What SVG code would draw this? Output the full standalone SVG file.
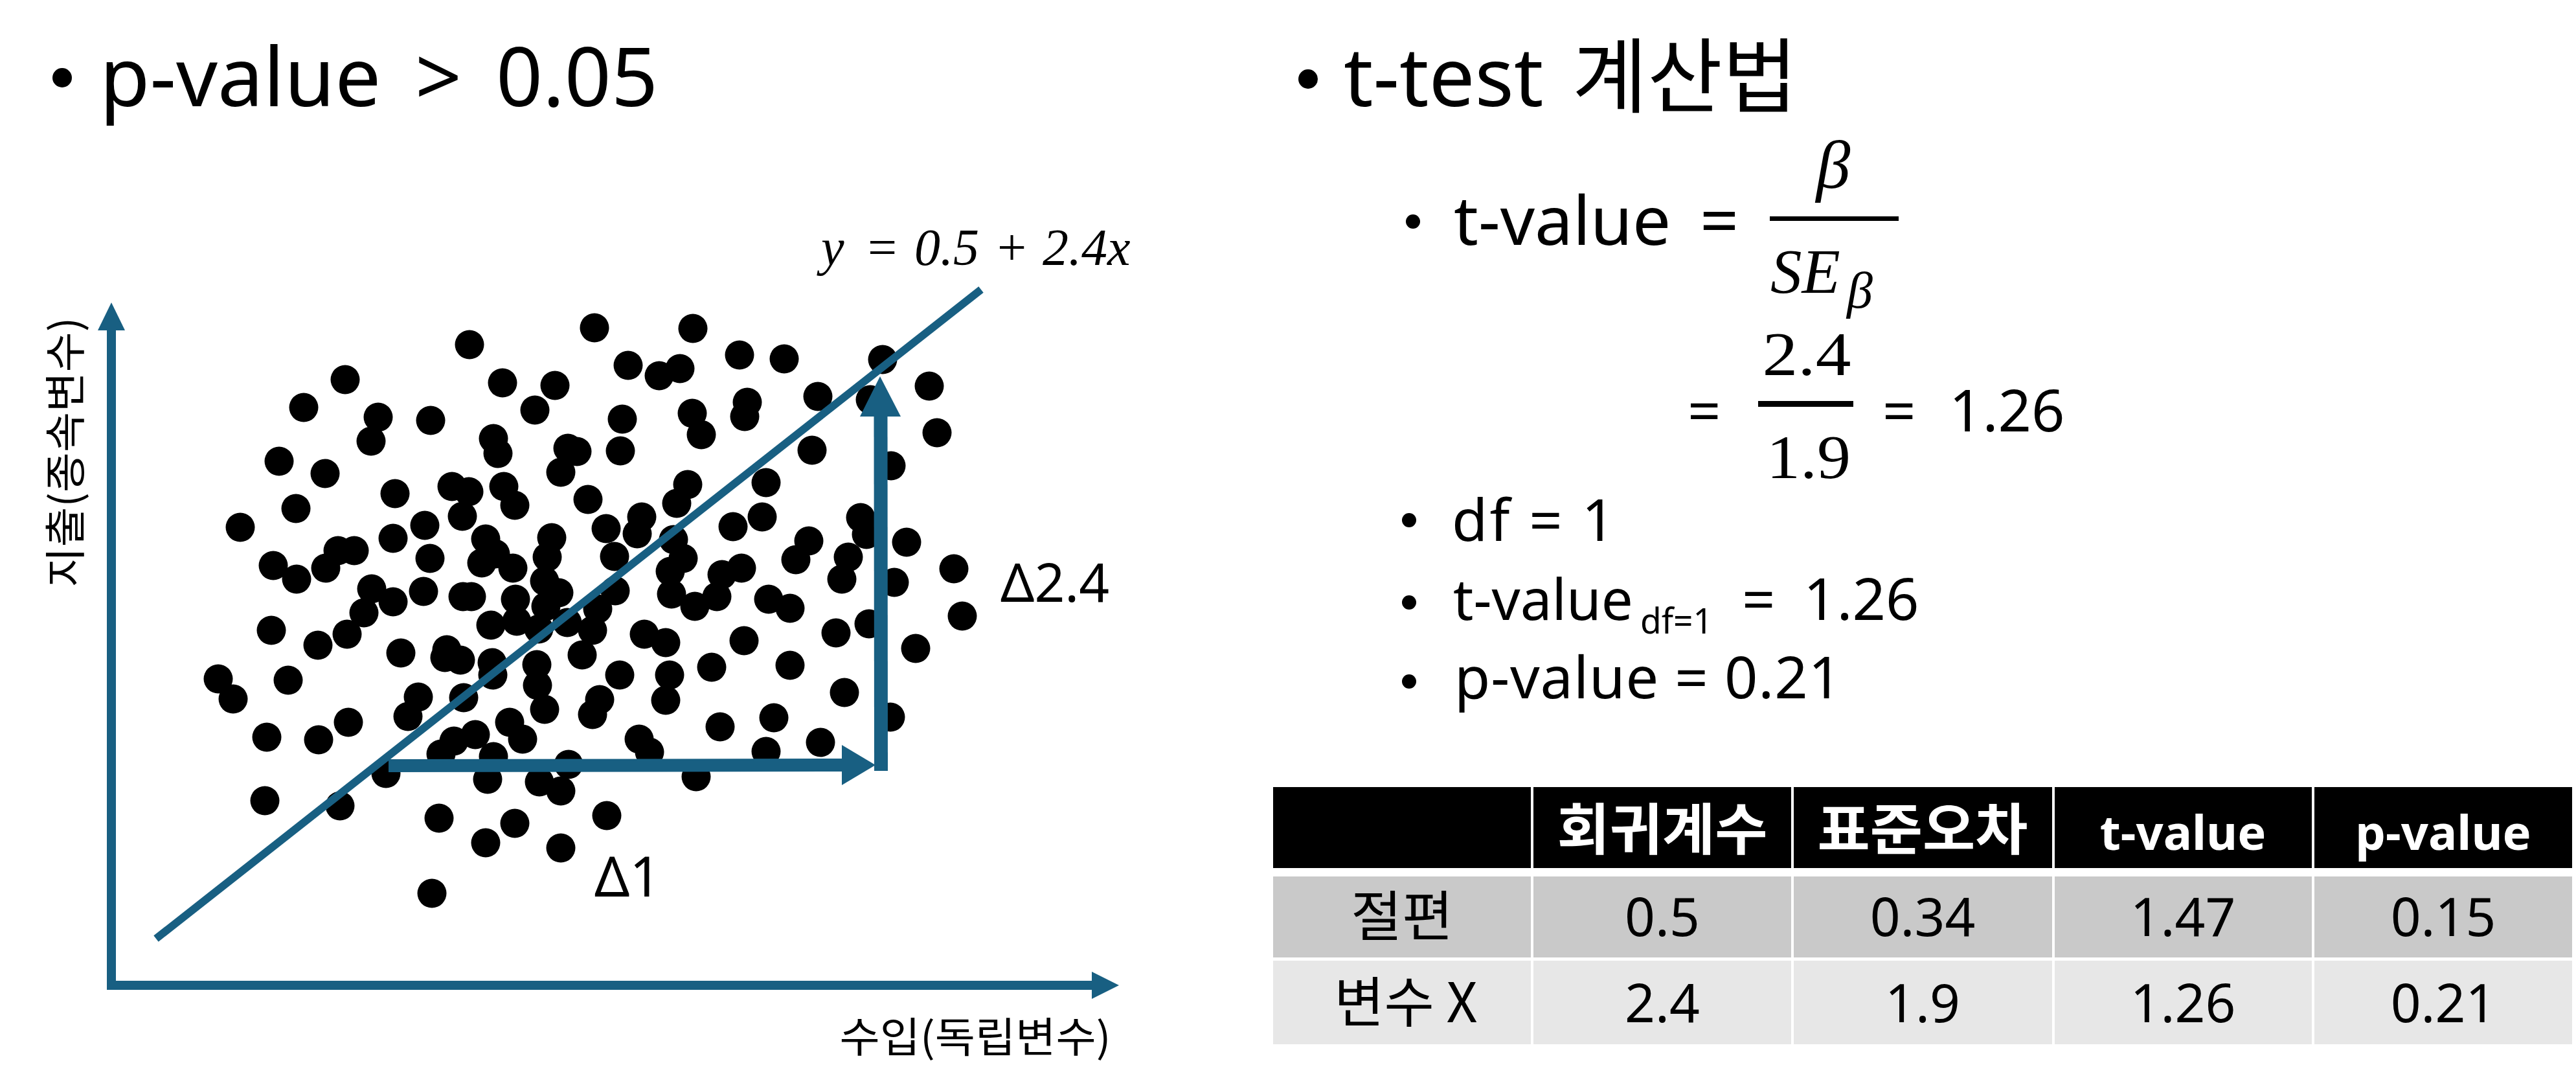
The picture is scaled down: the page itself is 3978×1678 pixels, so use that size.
<svg xmlns="http://www.w3.org/2000/svg" width="3978" height="1678" viewBox="0 0 3978 1678">
<style>
.sans{font-family:"Noto Sans","Noto Sans CJK KR",sans-serif;fill:#000}
.kr{font-family:"Noto Sans CJK KR","Noto Sans",sans-serif;fill:#000}
.math{font-family:"Liberation Serif","DejaVu Serif",serif;fill:#000}
.it{font-style:italic}
.blue{fill:#185F82}
.bline{stroke:#185F82;fill:none;stroke-linecap:butt}
.dots circle{fill:#000}
.hdr{fill:#000}
.r1{fill:#C9C9C9}
.r2{fill:#E7E7E7}
.ht{fill:#fff;font-weight:bold;text-anchor:middle}
.ct{text-anchor:middle}
</style>
<rect width="3978" height="1678" fill="#fff"/>

<g id="title-left">
<circle cx="96" cy="120" r="15"/>
<text class="sans" font-size="126" y="164"><tspan x="154">p-value</tspan><tspan x="641">&gt;</tspan><tspan x="766">0.05</tspan></text>
</g>

<g id="scatter" class="dots">
<circle cx="725" cy="532" r="22.5"/><circle cx="533" cy="586" r="22.5"/><circle cx="776" cy="591" r="22.5"/><circle cx="857" cy="595" r="22.5"/>
<circle cx="469" cy="629" r="22.5"/><circle cx="584" cy="644" r="22.5"/><circle cx="665" cy="649" r="22.5"/><circle cx="826" cy="633" r="22.5"/>
<circle cx="573" cy="681" r="22.5"/><circle cx="762" cy="677" r="22.5"/><circle cx="769" cy="700" r="22.5"/><circle cx="877" cy="692" r="22.5"/>
<circle cx="891" cy="697" r="22.5"/><circle cx="431" cy="712" r="22.5"/><circle cx="502" cy="731" r="22.5"/><circle cx="866" cy="729" r="22.5"/>
<circle cx="698" cy="751" r="22.5"/><circle cx="724" cy="759" r="22.5"/><circle cx="778" cy="751" r="22.5"/><circle cx="795" cy="780" r="22.5"/>
<circle cx="610" cy="762" r="22.5"/><circle cx="457" cy="785" r="22.5"/><circle cx="714" cy="797" r="22.5"/><circle cx="908" cy="771" r="22.5"/>
<circle cx="371" cy="814" r="22.5"/><circle cx="656" cy="811" r="22.5"/><circle cx="607" cy="831" r="22.5"/><circle cx="750" cy="832" r="22.5"/>
<circle cx="852" cy="830" r="22.5"/><circle cx="765" cy="855" r="22.5"/><circle cx="845" cy="860" r="22.5"/><circle cx="522" cy="850" r="22.5"/>
<circle cx="547" cy="850" r="22.5"/><circle cx="422" cy="873" r="22.5"/><circle cx="458" cy="894" r="22.5"/><circle cx="503" cy="877" r="22.5"/>
<circle cx="664" cy="862" r="22.5"/><circle cx="744" cy="869" r="22.5"/><circle cx="792" cy="877" r="22.5"/><circle cx="841" cy="897" r="22.5"/>
<circle cx="863" cy="915" r="22.5"/><circle cx="574" cy="909" r="22.5"/><circle cx="607" cy="929" r="22.5"/><circle cx="654" cy="913" r="22.5"/>
<circle cx="715" cy="921" r="22.5"/><circle cx="728" cy="921" r="22.5"/><circle cx="796" cy="925" r="22.5"/><circle cx="843" cy="936" r="22.5"/>
<circle cx="562" cy="946" r="22.5"/><circle cx="758" cy="965" r="22.5"/><circle cx="798" cy="959" r="22.5"/><circle cx="832" cy="971" r="22.5"/>
<circle cx="876" cy="961" r="22.5"/><circle cx="419" cy="973" r="22.5"/><circle cx="491" cy="996" r="22.5"/><circle cx="536" cy="979" r="22.5"/>
<circle cx="619" cy="1008" r="22.5"/><circle cx="690" cy="1003" r="22.5"/><circle cx="687" cy="1015" r="22.5"/><circle cx="711" cy="1019" r="22.5"/>
<circle cx="760" cy="1023" r="22.5"/><circle cx="761" cy="1042" r="22.5"/><circle cx="829" cy="1026" r="22.5"/><circle cx="830" cy="1058" r="22.5"/>
<circle cx="899" cy="1011" r="22.5"/><circle cx="337" cy="1048" r="22.5"/><circle cx="445" cy="1050" r="22.5"/>
<circle cx="841" cy="1095" r="22.5"/><circle cx="360" cy="1079" r="22.5"/><circle cx="646" cy="1076" r="22.5"/><circle cx="630" cy="1106" r="22.5"/>
<circle cx="716" cy="1077" r="22.5"/><circle cx="412" cy="1138" r="22.5"/><circle cx="492" cy="1142" r="22.5"/><circle cx="538" cy="1115" r="22.5"/>
<circle cx="787" cy="1115" r="22.5"/><circle cx="807" cy="1141" r="22.5"/><circle cx="701" cy="1144" r="22.5"/><circle cx="734" cy="1134" r="22.5"/>
<circle cx="681" cy="1164" r="22.5"/><circle cx="762" cy="1168" r="22.5"/><circle cx="878" cy="1180" r="22.5"/><circle cx="596" cy="1194" r="22.5"/>
<circle cx="753" cy="1203" r="22.5"/><circle cx="833" cy="1207" r="22.5"/><circle cx="866" cy="1221" r="22.5"/><circle cx="409" cy="1236" r="22.5"/>
<circle cx="525" cy="1244" r="22.5"/><circle cx="678" cy="1263" r="22.5"/><circle cx="795" cy="1271" r="22.5"/><circle cx="750" cy="1301" r="22.5"/>
<circle cx="866" cy="1309" r="22.5"/><circle cx="667" cy="1379" r="22.5"/>
<circle cx="918" cy="506" r="22.5"/><circle cx="1070" cy="507" r="22.5"/><circle cx="970" cy="564" r="22.5"/><circle cx="1018" cy="580" r="22.5"/>
<circle cx="1050" cy="569" r="22.5"/><circle cx="1142" cy="548" r="22.5"/><circle cx="1211" cy="554" r="22.5"/><circle cx="1363" cy="555" r="22.5"/>
<circle cx="1435" cy="596" r="22.5"/><circle cx="1263" cy="612" r="22.5"/><circle cx="1344" cy="617" r="22.5"/><circle cx="1154" cy="621" r="22.5"/>
<circle cx="1150" cy="643" r="22.5"/><circle cx="1069" cy="638" r="22.5"/><circle cx="1083" cy="671" r="22.5"/><circle cx="961" cy="647" r="22.5"/>
<circle cx="958" cy="696" r="22.5"/><circle cx="1447" cy="668" r="22.5"/><circle cx="1254" cy="695" r="22.5"/><circle cx="1376" cy="719" r="22.5"/>
<circle cx="1183" cy="745" r="22.5"/><circle cx="1062" cy="748" r="22.5"/><circle cx="1045" cy="777" r="22.5"/><circle cx="991" cy="798" r="22.5"/>
<circle cx="936" cy="816" r="22.5"/><circle cx="984" cy="824" r="22.5"/><circle cx="949" cy="859" r="22.5"/><circle cx="1177" cy="798" r="22.5"/>
<circle cx="1132" cy="813" r="22.5"/><circle cx="1329" cy="799" r="22.5"/><circle cx="1338" cy="825" r="22.5"/><circle cx="1400" cy="837" r="22.5"/>
<circle cx="1249" cy="835" r="22.5"/><circle cx="1229" cy="864" r="22.5"/><circle cx="1310" cy="860" r="22.5"/><circle cx="1300" cy="894" r="22.5"/>
<circle cx="1473" cy="878" r="22.5"/><circle cx="1381" cy="899" r="22.5"/><circle cx="1486" cy="951" r="22.5"/><circle cx="1040" cy="833" r="22.5"/>
<circle cx="1055" cy="862" r="22.5"/><circle cx="1035" cy="882" r="22.5"/><circle cx="1037" cy="917" r="22.5"/><circle cx="1073" cy="936" r="22.5"/>
<circle cx="1107" cy="921" r="22.5"/><circle cx="1115" cy="887" r="22.5"/><circle cx="1145" cy="877" r="22.5"/><circle cx="1187" cy="925" r="22.5"/>
<circle cx="1220" cy="939" r="22.5"/><circle cx="950" cy="912" r="22.5"/><circle cx="923" cy="940" r="22.5"/><circle cx="915" cy="973" r="22.5"/>
<circle cx="995" cy="979" r="22.5"/><circle cx="1028" cy="992" r="22.5"/><circle cx="1149" cy="989" r="22.5"/><circle cx="1291" cy="977" r="22.5"/>
<circle cx="1342" cy="963" r="22.5"/><circle cx="1414" cy="1001" r="22.5"/><circle cx="957" cy="1042" r="22.5"/><circle cx="1034" cy="1042" r="22.5"/>
<circle cx="1099" cy="1030" r="22.5"/><circle cx="1220" cy="1027" r="22.5"/>
<circle cx="926" cy="1080" r="22.5"/><circle cx="915" cy="1103" r="22.5"/><circle cx="1028" cy="1081" r="22.5"/><circle cx="1304" cy="1069" r="22.5"/>
<circle cx="1375" cy="1107" r="22.5"/><circle cx="1195" cy="1108" r="22.5"/><circle cx="1112" cy="1122" r="22.5"/><circle cx="987" cy="1141" r="22.5"/>
<circle cx="1003" cy="1161" r="22.5"/><circle cx="1183" cy="1160" r="22.5"/><circle cx="1267" cy="1146" r="22.5"/><circle cx="1075" cy="1199" r="22.5"/>
<circle cx="937" cy="1259" r="22.5"/>
</g>

<g id="connectors">
<line class="bline" x1="241" y1="1449" x2="1515" y2="447" stroke-width="12"/>
<line class="bline" x1="172" y1="1528" x2="172" y2="505" stroke-width="14"/>
<polygon class="blue" points="172,467 151,510 193,510"/>
<line class="bline" x1="165" y1="1521" x2="1690" y2="1521" stroke-width="14"/>
<polygon class="blue" points="1728,1521 1686,1500 1686,1542"/>
<line class="bline" x1="600" y1="1182" x2="1304" y2="1181" stroke-width="20"/>
<polygon class="blue" points="1352,1181 1300,1150 1300,1212"/>
<line class="bline" x1="1360.5" y1="1190" x2="1360" y2="638" stroke-width="21"/>
<polygon class="blue" points="1359,581 1328,643 1391,643"/>
</g>

<g id="chart-labels">
<text class="math it" font-size="80" y="409"><tspan x="1268">y</tspan><tspan x="1340" font-style="normal">=</tspan><tspan x="1412">0.5</tspan><tspan x="1540" font-style="normal">+</tspan><tspan x="1610">2.4x</tspan></text>
<text class="sans" font-size="82" x="1545" y="929">Δ2.4</text>
<text class="sans" font-size="85" x="918" y="1384">Δ1</text>
<text class="kr" font-size="64" text-anchor="middle" textLength="417" lengthAdjust="spacingAndGlyphs" transform="translate(124,698) rotate(-90)" x="0" y="0">지출(종속변수)</text>
<text class="kr" font-size="64" text-anchor="middle" textLength="419" lengthAdjust="spacingAndGlyphs" x="1506" y="1624">수입(독립변수)</text>
</g>

<g id="title-right">
<circle cx="2020" cy="122" r="15"/>
<text class="sans" font-size="126" y="164"><tspan x="2075">t-test</tspan><tspan x="2428">계산법</tspan></text>
</g>

<g id="formula">
<circle cx="2182" cy="342" r="11"/>
<text class="sans" font-size="105" x="2245" y="378">t-value</text>
<text class="sans" font-size="105" x="2625" y="378">=</text>
<text class="math it" font-size="106" x="2831" y="290" text-anchor="middle">β</text>
<rect x="2733" y="334" width="199" height="7" fill="#000"/>
<text class="math it" font-size="97" x="2734" y="452">SE</text>
<text class="math it" font-size="80" x="2852" y="475">β</text>

<text class="sans" font-size="90" x="2606" y="666">=</text>
<text class="math" font-size="95" x="2790" y="579" text-anchor="middle" textLength="137" lengthAdjust="spacingAndGlyphs">2.4</text>
<rect x="2715" y="619" width="147" height="9" fill="#000"/>
<text class="math" font-size="95" x="2793" y="738" text-anchor="middle" textLength="130" lengthAdjust="spacingAndGlyphs">1.9</text>
<text class="sans" font-size="90" x="2907" y="666">=</text>
<text class="sans" font-size="90" x="3010" y="666">1.26</text>

<circle cx="2176" cy="803" r="11"/>
<text class="sans" font-size="90" x="2242" y="835" textLength="252">df = 1</text>
<circle cx="2176" cy="930" r="11"/>
<text class="sans" font-size="88" y="957"><tspan x="2244" textLength="278" lengthAdjust="spacingAndGlyphs">t-value</tspan><tspan x="2533" dy="21" font-size="54" textLength="112" lengthAdjust="spacingAndGlyphs">df=1</tspan><tspan x="2690" dy="-21" font-size="90">=</tspan><tspan x="2785" font-size="90">1.26</tspan></text>
<circle cx="2176" cy="1052" r="11"/>
<text class="sans" font-size="90" x="2246" y="1078" textLength="598">p-value = 0.21</text>
</g>

<g id="table">
<rect class="hdr" x="1966" y="1215" width="398" height="125"/>
<rect class="hdr" x="2368" y="1215" width="398" height="125"/>
<rect class="hdr" x="2770" y="1215" width="399" height="125"/>
<rect class="hdr" x="3173" y="1215" width="397" height="125"/>
<rect class="hdr" x="3574" y="1215" width="398" height="125"/>
<rect class="r1" x="1966" y="1353" width="398" height="125"/>
<rect class="r1" x="2368" y="1353" width="398" height="125"/>
<rect class="r1" x="2770" y="1353" width="399" height="125"/>
<rect class="r1" x="3173" y="1353" width="397" height="125"/>
<rect class="r1" x="3574" y="1353" width="398" height="125"/>
<rect class="r2" x="1966" y="1483" width="398" height="129"/>
<rect class="r2" x="2368" y="1483" width="398" height="129"/>
<rect class="r2" x="2770" y="1483" width="399" height="129"/>
<rect class="r2" x="3173" y="1483" width="397" height="129"/>
<rect class="r2" x="3574" y="1483" width="398" height="129"/>
<text class="kr ht" font-size="86" x="2567" y="1312" textLength="325" lengthAdjust="spacingAndGlyphs">회귀계수</text>
<text class="kr ht" font-size="86" x="2969" y="1312" textLength="325" lengthAdjust="spacingAndGlyphs">표준오차</text>
<text class="sans ht" font-size="74" x="3371" y="1312">t-value</text>
<text class="sans ht" font-size="74" x="3773" y="1312">p-value</text>
<text class="kr ct" font-size="84" x="2165" y="1445" textLength="158" lengthAdjust="spacingAndGlyphs">절편</text>
<text class="sans ct" font-size="82" x="2567" y="1445">0.5</text>
<text class="sans ct" font-size="82" x="2969" y="1445">0.34</text>
<text class="sans ct" font-size="82" x="3371" y="1445">1.47</text>
<text class="sans ct" font-size="82" x="3773" y="1445">0.15</text>
<text class="kr ct" font-size="84" x="2171" y="1578">변수 X</text>
<text class="sans ct" font-size="82" x="2567" y="1578">2.4</text>
<text class="sans ct" font-size="82" x="2969" y="1578">1.9</text>
<text class="sans ct" font-size="82" x="3371" y="1578">1.26</text>
<text class="sans ct" font-size="82" x="3773" y="1578">0.21</text>
</g>
</svg>
